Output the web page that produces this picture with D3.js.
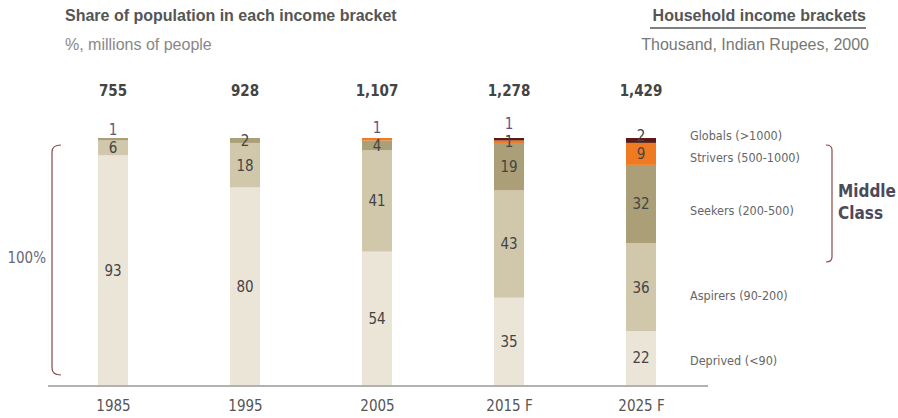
<!DOCTYPE html>
<html>
<head>
<meta charset="utf-8">
<script src="https://cdn.jsdelivr.net/npm/d3@7"></script>
<style>
  body { margin: 0; background: #fff; }
  svg { display: block; }
  .narrow { font-family: "Liberation Sans Narrow", "DejaVu Sans Condensed", sans-serif; }
  .head { font-family: "Liberation Sans", Arial, sans-serif; }
</style>
</head>
<body>
<div id="container"></div>
<script>
const years = ["1985", "1995", "2005", "2015 F", "2025 F"];
const totals = [755, 928, 1107, 1278, 1429];
const brackets = ["Deprived", "Aspirers", "Seekers", "Strivers", "Globals"];
const bracketLabels = ["Deprived (<90)", "Aspirers (90-200)", "Seekers (200-500)", "Strivers (500-1000)", "Globals (>1000)"];
const deprived = [93, 80, 54, 35, 22];
const aspirers = [6, 18, 41, 43, 36];
const seekers = [1, 2, 4, 19, 32];
const strivers = [0, 0, 1, 1, 9];
const globals = [0, 0, 0, 1, 2];
const colors = ["#ebe5d8", "#d1c8ab", "#ab9f78", "#f07a22", "#5c1a12"];

const w = 898;
const h = 418;
const base = 385;
const barTop = 138;
const barW = 30;

const series = [deprived, aspirers, seekers, strivers, globals];
const rows = years.map((y, i) => {
  const r = { year: y };
  brackets.forEach((b, j) => (r[b] = series[j][i]));
  return r;
});

// each bar stacked to its own sum, so all reach the 100% line
const stack = d3.stack().keys(brackets).offset(d3.stackOffsetExpand);
const layers = stack(rows);

const x = d3.scalePoint().domain(years).range([113, 641]);
const y = d3.scaleLinear().domain([0, 1]).range([base, barTop]);

const svg = d3
  .select("#container")
  .append("svg")
  .attr("width", w)
  .attr("height", h);

// headings
svg.append("text").attr("class", "head").attr("x", 65).attr("y", 21)
  .attr("font-size", 16).attr("font-weight", "bold").attr("fill", "#555")
  .text("Share of population in each income bracket");
svg.append("text").attr("class", "head").attr("x", 65).attr("y", 50)
  .attr("font-size", 16).attr("fill", "#888")
  .text("%, millions of people");
svg.append("text").attr("class", "head").attr("x", 866).attr("y", 21)
  .attr("text-anchor", "end").attr("font-size", 16).attr("font-weight", "bold").attr("fill", "#555")
  .text("Household income brackets");
svg.append("line").attr("x1", 650).attr("x2", 866).attr("y1", 28).attr("y2", 28)
  .attr("stroke", "#555").attr("stroke-width", 1.5);
svg.append("text").attr("class", "head").attr("x", 869).attr("y", 50)
  .attr("text-anchor", "end").attr("font-size", 16).attr("fill", "#777")
  .text("Thousand, Indian Rupees, 2000");

// totals (millions)
svg.append("g").selectAll("text").data(totals).enter().append("text")
  .attr("class", "narrow")
  .attr("x", (d, i) => x(years[i]))
  .attr("y", 96)
  .attr("text-anchor", "middle")
  .attr("font-size", 15).attr("font-weight", "bold").attr("fill", "#444")
  .text((d) => d3.format(",")(d));

// bars
const g = svg.append("g");
g.selectAll("g").data(layers).enter().append("g")
  .attr("fill", (d, i) => colors[i])
  .selectAll("rect").data((d) => d).enter().append("rect")
  .attr("x", (d) => x(d.data.year) - barW / 2)
  .attr("width", barW)
  .attr("y", (d) => y(d[1]))
  .attr("height", (d) => y(d[0]) - y(d[1]));

// segment labels at segment centres; a label crowding the one below
// is lifted up (above the bar for the thin top slices)
const labels = [];
years.forEach((yr, i) => {
  let prev = null;
  layers.forEach((layer, j) => {
    const v = series[j][i];
    if (!v) return;
    const s = layer[i];
    let cy = (y(s[0]) + y(s[1])) / 2;
    if (prev !== null && prev - cy < 18) cy = prev - 18;
    const above = cy < barTop - 6;
    labels.push({ x: x(yr), y: cy, v: v, above: above });
    prev = cy;
  });
});
svg.append("g").selectAll("text").data(labels).enter().append("text")
  .attr("class", "narrow")
  .attr("x", (d) => d.x)
  .attr("y", (d) => d.y)
  .attr("dy", "0.36em")
  .attr("text-anchor", "middle")
  .attr("font-size", 15)
  .attr("fill", (d) => (d.above ? "#5e5488" : "#444"))
  .text((d) => d.v);

// baseline and year axis
svg.append("line").attr("x1", 48).attr("x2", 708).attr("y1", base + 1).attr("y2", base + 1)
  .attr("stroke", "#999").attr("stroke-width", 1.5);
const axis = svg.append("g")
  .attr("transform", `translate(0,${base})`)
  .call(d3.axisBottom(x).tickSize(0).tickPadding(15));
axis.select(".domain").remove();
axis.selectAll("text")
  .attr("class", "narrow")
  .attr("font-size", 15)
  .attr("fill", "#555");

// 100% bracket
svg.append("path")
  .attr("d", "M61,145 Q52,145 52,152 L52,368 Q52,375 61,375")
  .attr("fill", "none").attr("stroke", "#8a4a4a").attr("stroke-width", 1.2);
svg.append("text").attr("class", "narrow").attr("x", 46).attr("y", 258)
  .attr("dy", "0.36em").attr("text-anchor", "end")
  .attr("font-size", 15).attr("fill", "#68687a")
  .text("100%");

// legend labels
const legendY = [360, 295, 210, 157, 135];
svg.append("g").selectAll("text").data(bracketLabels).enter().append("text")
  .attr("class", "narrow")
  .attr("x", 690)
  .attr("y", (d, i) => legendY[i])
  .attr("dy", "0.36em")
  .attr("font-size", 12.5).attr("fill", "#666")
  .text((d) => d);

// middle class bracket
svg.append("path")
  .attr("d", "M826,145 Q832,145 832,150 L832,257 Q832,262 826,262")
  .attr("fill", "none").attr("stroke", "#8a4a4a").attr("stroke-width", 1.2);
const mc = svg.append("text").attr("class", "narrow")
  .attr("font-size", 17).attr("font-weight", "bold").attr("fill", "#4a4a5a");
mc.append("tspan").attr("x", 838).attr("y", 197).text("Middle");
mc.append("tspan").attr("x", 838).attr("y", 219).text("Class");
</script>
</body>
</html>
